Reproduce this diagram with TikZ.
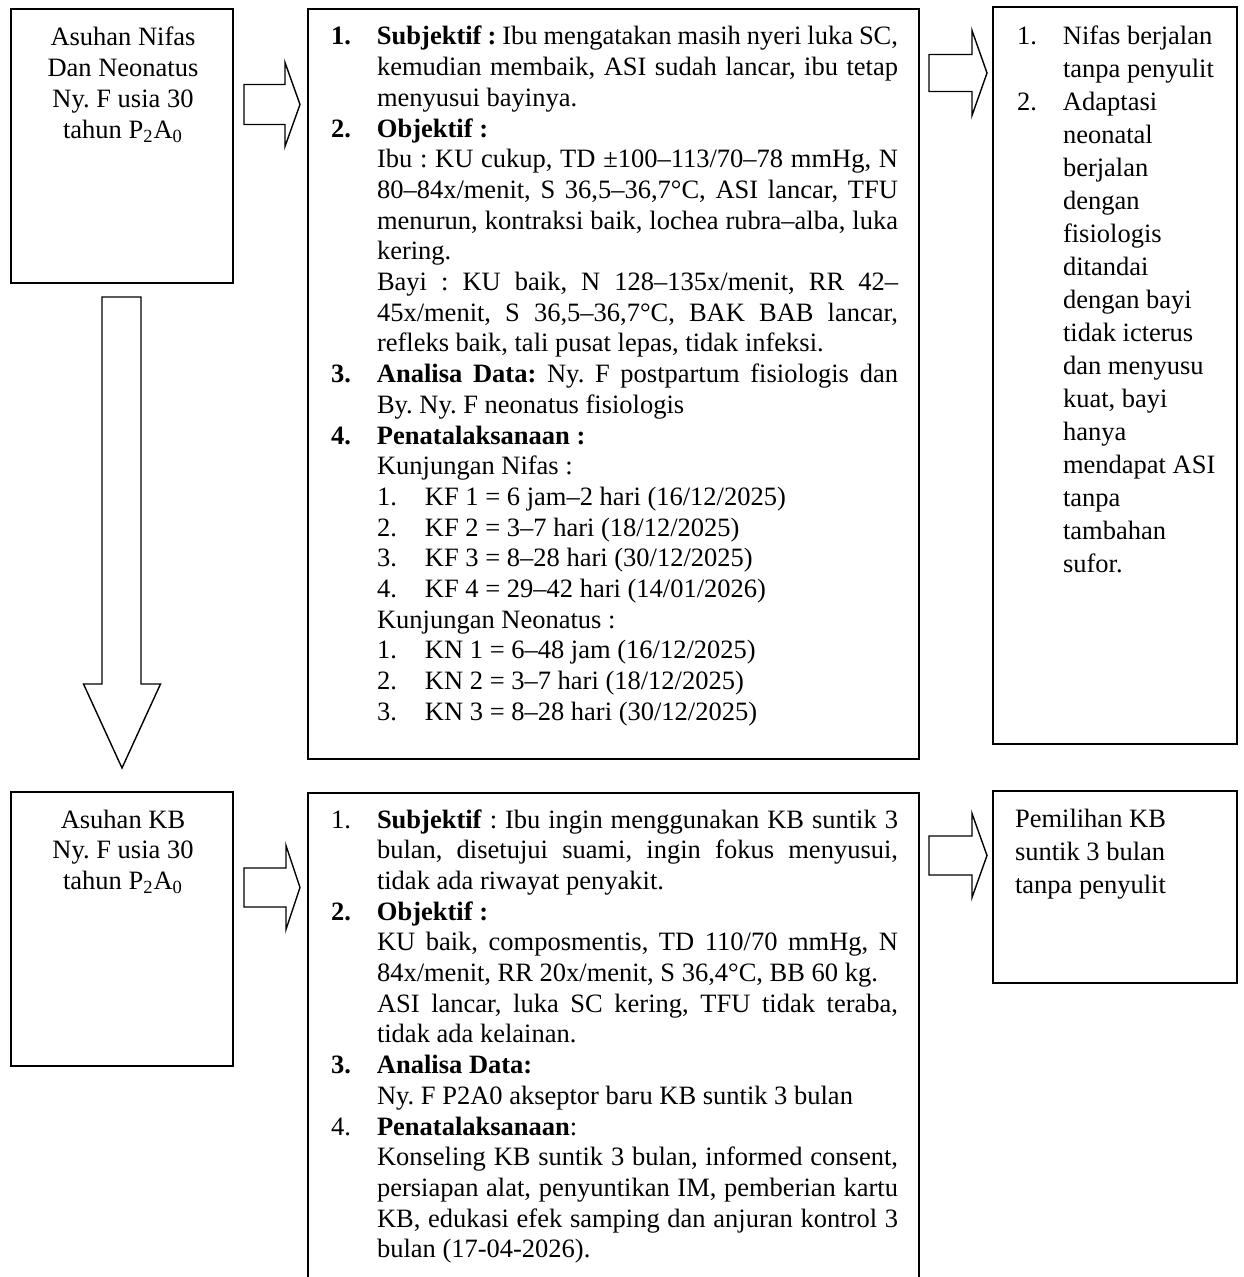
\documentclass[tikz,border=0pt]{standalone}
\usepackage{fontspec}
\setmainfont{Liberation Serif}
\usetikzlibrary{fit}
% numbered justified line, numbered ragged line, continuation justified / ragged, sub-item
\newcommand\NL[2]{\hbox{\hbox to 23pt{#1\hfil}\hbox to 260.5pt{#2}}}
\newcommand\NR[2]{\hbox{\hbox to 23pt{#1\hfil}#2}}
\newcommand\CJ[1]{\hbox{\hskip23pt\hbox to 260.5pt{#1}}}
\newcommand\CR[1]{\hbox{\hskip23pt #1}}
\newcommand\SL[2]{\hbox{\hskip23pt\hbox to 24pt{#1\hfil}#2}}
\newcommand\ML[1]{\hbox{#1}}
\newcommand\CT[1]{\hbox to 0pt{\hss#1\hss}}
\tikzset{
  box/.style={draw, line width=1pt, inner sep=0pt, outer sep=0pt},
  barrow/.style={draw, line width=0.7pt, fill=white, line join=miter},
  txt/.style={inner sep=0pt, outer sep=0pt, anchor=base west,
    font=\fontsize{13.25}{15.35}\selectfont\frenchspacing},
  txtw/.style={inner sep=0pt, outer sep=0pt, anchor=base west,
    font=\fontsize{13.25}{16.5}\selectfont\frenchspacing}
}
\newcommand\RArrow[6]{%
  \draw[barrow] (#1,{#4-#5}) -- (#2,{#4-#5}) -- (#2,{#4-#6}) -- (#3,#4)
    -- (#2,{#4+#6}) -- (#2,{#4+#5}) -- (#1,{#4+#5}) -- cycle;}
\begin{document}
\begin{tikzpicture}[x=0.5pt,y=-0.5pt]
\useasboundingbox (0,0) rectangle (1243,1277);
\clip (0,0) rectangle (1243,1277);
\fill[white] (0,0) rectangle (1243,1277);

% boxes
\node[box, fit={(11,9) (233,283)}] (A) {};
\node[box, fit={(308,9) (919,759)}] (B) {};
\node[box, fit={(993,7) (1237,744)}] (C) {};
\node[box, fit={(11,792) (233,1066)}] (D) {};
\coordinate (Etl) at (308,793);
\coordinate (Etr) at (919,793);
\draw[line width=1pt] (308,1300) -- (Etl) -- (Etr) -- (919,1300);
\node[box, fit={(993,791) (1237,983)}] (F) {};

% block arrows
\RArrow{244}{285}{300}{104.5}{20}{42}
\RArrow{929}{972}{987}{73}{18.5}{42.5}
\RArrow{244}{286}{300}{887.5}{19.5}{42}
\RArrow{929}{972}{987}{855.5}{19.5}{42}
\draw[barrow] (102,297) -- (141,297) -- (141,684) -- (160.5,684) -- (122,768)
  -- (83.5,684) -- (102,684) -- cycle;

% box A text
\node[txt] (Atext) at (122,46) {\vtop{%
\CT{Asuhan Nifas}
\CT{Dan Neonatus}
\CT{Ny. F usia 30}
\CT{tahun P\textsubscript{2}A\textsubscript{0}}}};

% box B text
\node[txt] (Btext) at (331,45) {\vtop{%
\NL{\textbf{1.}}{\textbf{Subjektif :} Ibu mengatakan masih nyeri luka SC,}
\CJ{kemudian membaik, ASI sudah lancar, ibu tetap}
\CR{menyusui bayinya.}
\NR{\textbf{2.}}{\textbf{Objektif :}}
\CJ{Ibu : KU cukup, TD ±100–113/70–78 mmHg, N}
\CJ{80–84x/menit, S 36,5–36,7°C, ASI lancar, TFU}
\CJ{menurun, kontraksi baik, lochea rubra–alba, luka}
\CR{kering.}
\CJ{Bayi : KU baik, N 128–135x/menit, RR 42–}
\CJ{45x/menit, S 36,5–36,7°C, BAK BAB lancar,}
\CR{refleks baik, tali pusat lepas, tidak infeksi.}
\NL{\textbf{3.}}{\textbf{Analisa Data:} Ny. F postpartum fisiologis dan}
\CR{By. Ny. F neonatus fisiologis}
\NR{\textbf{4.}}{\textbf{Penatalaksanaan :}}
\CR{Kunjungan Nifas :}
\SL{1.}{KF 1 = 6 jam–2 hari (16/12/2025)}
\SL{2.}{KF 2 = 3–7 hari (18/12/2025)}
\SL{3.}{KF 3 = 8–28 hari (30/12/2025)}
\SL{4.}{KF 4 = 29–42 hari (14/01/2026)}
\CR{Kunjungan Neonatus :}
\SL{1.}{KN 1 = 6–48 jam (16/12/2025)}
\SL{2.}{KN 2 = 3–7 hari (18/12/2025)}
\SL{3.}{KN 3 = 8–28 hari (30/12/2025)}}};

% box C text
\node[txtw] (Ctext) at (1017,45) {\vtop{%
\NR{1.}{Nifas berjalan}
\CR{tanpa penyulit}
\NR{2.}{Adaptasi}
\CR{neonatal}
\CR{berjalan}
\CR{dengan}
\CR{fisiologis}
\CR{ditandai}
\CR{dengan bayi}
\CR{tidak icterus}
\CR{dan menyusu}
\CR{kuat, bayi}
\CR{hanya}
\CR{mendapat ASI}
\CR{tanpa}
\CR{tambahan}
\CR{sufor.}}};

% box D text
\node[txt] (Dtext) at (122,828) {\vtop{%
\CT{Asuhan KB}
\CT{Ny. F usia 30}
\CT{tahun P\textsubscript{2}A\textsubscript{0}}}};

% box E text
\node[txt] (Etext) at (331,828) {\vtop{%
\NL{1.}{\textbf{Subjektif} : Ibu ingin menggunakan KB suntik 3}
\CJ{bulan, disetujui suami, ingin fokus menyusui,}
\CR{tidak ada riwayat penyakit.}
\NR{\textbf{2.}}{\textbf{Objektif :}}
\CJ{KU baik, composmentis, TD 110/70 mmHg, N}
\CR{84x/menit, RR 20x/menit, S 36,4°C, BB 60 kg.}
\CJ{ASI lancar, luka SC kering, TFU tidak teraba,}
\CR{tidak ada kelainan.}
\NR{\textbf{3.}}{\textbf{Analisa Data:}}
\CR{Ny. F P2A0 akseptor baru KB suntik 3 bulan}
\NR{4.}{\textbf{Penatalaksanaan}:}
\CJ{Konseling KB suntik 3 bulan, informed consent,}
\CJ{persiapan alat, penyuntikan IM, pemberian kartu}
\CJ{KB, edukasi efek samping dan anjuran kontrol 3}
\CR{bulan (17-04-2026).}}};

% box F text
\node[txtw] (Ftext) at (1015,827) {\vtop{%
\ML{Pemilihan KB}
\ML{suntik 3 bulan}
\ML{tanpa penyulit}}};
\end{tikzpicture}
\end{document}
